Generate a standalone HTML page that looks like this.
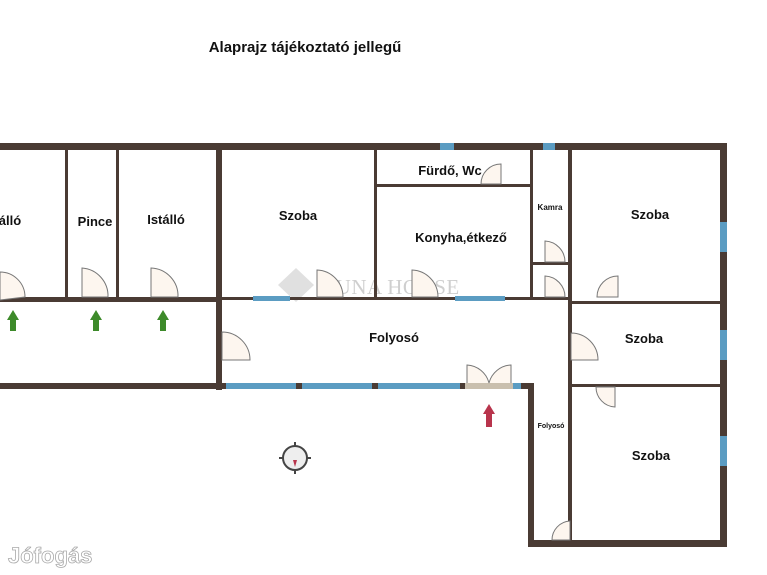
<!DOCTYPE html>
<html><head><meta charset="utf-8"><style>
html,body{margin:0;padding:0;background:#fff;width:767px;height:575px;overflow:hidden}
svg{display:block}
text{font-family:"Liberation Sans",sans-serif;font-weight:bold;fill:#111}
</style></head><body>
<svg width="767" height="575" viewBox="0 0 767 575" xmlns="http://www.w3.org/2000/svg">
<text x="305" y="52" font-size="15" text-anchor="middle">Alaprajz tájékoztató jellegű</text>
<path d="M296 268 L314 285 L296 302 L278 285 Z" fill="#d8d8d8" opacity="0.8"/>
<text x="320" y="294" font-size="21" letter-spacing="0.5" style="fill:#cfcfcf;font-family:'Liberation Serif',serif;font-weight:normal">DUNA HOUSE</text>
<g fill="#4a3b34">
<rect x="0" y="143" width="727" height="7"/>
<rect x="720" y="143" width="7" height="404"/>
<rect x="528" y="540" width="199" height="7"/>
<rect x="528" y="383" width="6" height="164"/>
<rect x="216" y="143" width="6" height="247"/>
<rect x="0" y="383" width="222" height="6"/>
<rect x="0" y="297" width="222" height="5"/>
<rect x="65" y="150" width="3" height="150"/>
<rect x="116" y="150" width="3" height="150"/>
<rect x="222" y="297" width="348" height="3"/>
<rect x="374" y="150" width="3" height="150"/>
<rect x="377" y="184" width="153" height="3"/>
<rect x="530" y="150" width="3" height="150"/>
<rect x="533" y="262" width="36" height="3"/>
<rect x="568" y="150" width="4" height="397"/>
<rect x="570" y="301" width="152" height="3"/>
<rect x="570" y="384" width="152" height="3"/>
<rect x="218" y="383" width="316" height="6"/>
</g>
<g fill="#5b9cc2">
<rect x="253" y="296" width="37" height="5"/>
<rect x="455" y="296" width="50" height="5"/>
<rect x="226" y="383" width="70" height="6"/>
<rect x="302" y="383" width="70" height="6"/>
<rect x="378" y="383" width="82" height="6"/>
<rect x="513" y="383" width="8" height="6"/>
<rect x="720" y="222" width="7" height="30"/>
<rect x="720" y="330" width="7" height="30"/>
<rect x="720" y="436" width="7" height="30"/>
<rect x="440" y="143" width="14" height="7"/>
<rect x="543" y="143" width="12" height="7"/>
</g>
<rect x="465" y="383" width="48" height="6" fill="#c9bfae"/>
<g fill="#fdf6ef" stroke="#777" stroke-width="1">
<path d="M0 300 V272 A25 25 0 0 1 25 297 Z"/>
<path d="M82 297 V268 A28 28 0 0 1 108 297 Z"/>
<path d="M151 297 V268 A28 28 0 0 1 178 297 Z"/>
<path d="M317 297 V270 A27 27 0 0 1 343 297 Z"/>
<path d="M412 297 V270 A27 27 0 0 1 438 297 Z"/>
<path d="M501 184 V164 A20 20 0 0 0 481 184 Z"/>
<path d="M545 262 V241 A21 21 0 0 1 565 262 Z"/>
<path d="M545 297 V276 A21 21 0 0 1 565 297 Z"/>
<path d="M618 297 V276 A21 21 0 0 0 597 297 Z"/>
<path d="M222 332 A28 28 0 0 1 250 360 H222 Z"/>
<path d="M571 333 A27 27 0 0 1 598 360 H571 Z"/>
<path d="M615 387 V407 A20 20 0 0 1 596 387 Z"/>
<path d="M552 540 A19 19 0 0 1 570 521 V540 Z"/>
<path d="M467 383 V365 A24 24 0 0 1 489 383 M511 383 V365 A24 24 0 0 0 489 383" />
</g>
<g font-size="13">
<text x="10" y="225" text-anchor="middle">álló</text>
<text x="95" y="226" text-anchor="middle">Pince</text>
<text x="166" y="224" text-anchor="middle">Istálló</text>
<text x="298" y="220" text-anchor="middle">Szoba</text>
<text x="450" y="175" text-anchor="middle">Fürdő, Wc</text>
<text x="461" y="242" text-anchor="middle">Konyha,étkező</text>
<text x="650" y="219" text-anchor="middle">Szoba</text>
<text x="394" y="342" text-anchor="middle">Folyosó</text>
<text x="644" y="343" text-anchor="middle">Szoba</text>
<text x="651" y="460" text-anchor="middle">Szoba</text>
</g>
<text x="550" y="210" font-size="8" text-anchor="middle">Kamra</text>
<text x="551" y="428" font-size="7" text-anchor="middle">Folyosó</text>
<g fill="#3d8a2a">
<path d="M13 310 L19 320 H16 V331 H10 V320 H7 Z"/>
<path d="M96 310 L102 320 H99 V331 H93 V320 H90 Z"/>
<path d="M163 310 L169 320 H166 V331 H160 V320 H157 Z"/>
</g>
<path d="M489 404 L495 414 H492 V427 H486 V414 H483 Z" fill="#b8344c"/>
<circle cx="295" cy="458" r="12" fill="#eee" stroke="#444" stroke-width="2"/>
<path d="M295 442 v4 M295 470 v4 M279 458 h4 M307 458 h4" stroke="#444" stroke-width="2"/>
<path d="M293 460 L295 467 L297 460 Z" fill="#b8344c"/>
<text x="8" y="563" font-size="22" style="fill:#fff;stroke:#aaa;stroke-width:0.8;font-weight:bold">Jófogás</text>
</svg>
</body></html>
